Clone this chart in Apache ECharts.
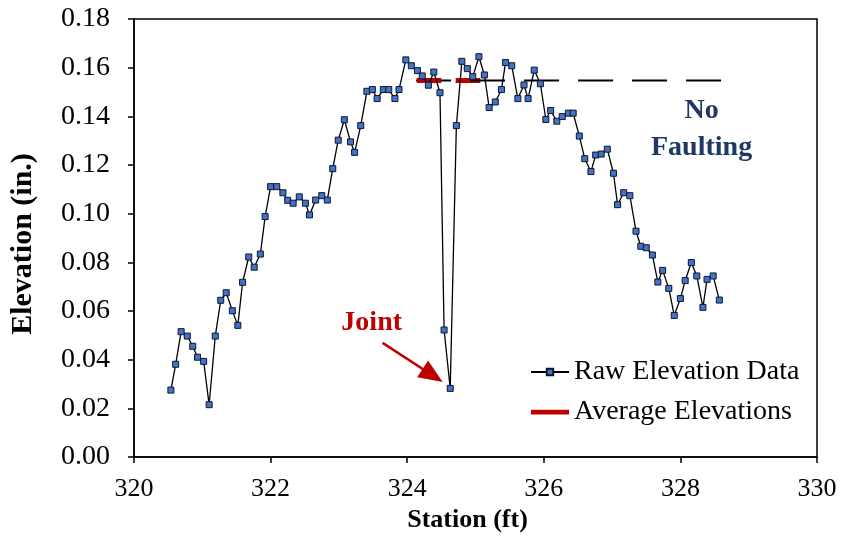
<!DOCTYPE html>
<html>
<head>
<meta charset="utf-8">
<script src="https://cdn.jsdelivr.net/npm/echarts@6/dist/echarts.min.js"></script>
<style>
  html, body { margin: 0; padding: 0; background: #fff; }
  #chart { width: 841px; height: 541px; }
</style>
</head>
<body>
<div id="chart"></div>
<script>
// Surface profile across the joint: station (ft) and elevation (in.)
const stations = [
  320.54, 320.61, 320.69, 320.78, 320.86, 320.93, 321.02, 321.10, 321.19, 321.27,
  321.35, 321.44, 321.52, 321.59, 321.68, 321.76, 321.85, 321.92, 322.00, 322.09,
  322.18, 322.25, 322.33, 322.42, 322.51, 322.57, 322.66, 322.75, 322.83, 322.91,
  322.99, 323.08, 323.17, 323.23, 323.32, 323.41, 323.49, 323.56, 323.65, 323.73,
  323.82, 323.88, 323.98, 324.06, 324.15, 324.22, 324.31, 324.39, 324.48, 324.54,
  324.63, 324.72, 324.80, 324.88, 324.96, 325.05, 325.13, 325.20, 325.29, 325.38,
  325.44, 325.53, 325.62, 325.71, 325.77, 325.86, 325.95, 326.03, 326.10, 326.19,
  326.27, 326.36, 326.43, 326.52, 326.60, 326.69, 326.76, 326.84, 326.93, 327.02,
  327.08, 327.17, 327.26, 327.35, 327.42, 327.50, 327.59, 327.67, 327.74, 327.83,
  327.91, 328.00, 328.07, 328.16, 328.24, 328.33, 328.39, 328.48, 328.57
];
const elevations = [
  0.0275, 0.0381, 0.0515, 0.0497, 0.0455, 0.0410, 0.0393, 0.0215, 0.0497, 0.0644,
  0.0675, 0.0601, 0.0541, 0.0718, 0.0822, 0.0780, 0.0834, 0.0988, 0.1111, 0.1111,
  0.1086, 0.1055, 0.1043, 0.1069, 0.1043, 0.0995, 0.1056, 0.1074, 0.1056, 0.1185,
  0.1302, 0.1386, 0.1295, 0.1252, 0.1362, 0.1503, 0.1510, 0.1473, 0.1510, 0.1510,
  0.1473, 0.1510, 0.1632, 0.1608, 0.1588, 0.1566, 0.1528, 0.1582, 0.1497, 0.0522,
  0.0282, 0.1362, 0.1626, 0.1596, 0.1563, 0.1645, 0.1570, 0.1436, 0.1459, 0.1510,
  0.1621, 0.1608, 0.1473, 0.1529, 0.1473, 0.1590, 0.1534, 0.1387, 0.1424, 0.1380,
  0.1399, 0.1413, 0.1413, 0.1319, 0.1226, 0.1173, 0.1241, 0.1245, 0.1265, 0.1166,
  0.1037, 0.1086, 0.1074, 0.0928, 0.0866, 0.0860, 0.0830, 0.0719, 0.0767, 0.0693,
  0.0582, 0.0651, 0.0725, 0.0799, 0.0744, 0.0615, 0.0730, 0.0744, 0.0645
];

// Average slab elevations either side of the joint
const avgLeftStations = [324.14, 324.50];
const avgRightStations = [324.71, 325.07];
const avgElevation = 0.1547;

// Reference level carried forward (no faulting)
const levelStations = [324.13, 328.60];

// Axis ticks
const xTicks = [320, 322, 324, 326, 328, 330];
const yTicks = [0, 0.02, 0.04, 0.06, 0.08, 0.10, 0.12, 0.14, 0.16, 0.18];

// Annotation anchors (data units)
const jointLabelAt = [323.48, 0.0551];
const arrowFrom = [323.64, 0.0469];
const arrowTo = [324.52, 0.0308];
const noFaultAt = [328.31, 0.1350];

const SERIF = "'Liberation Serif', 'Times New Roman', serif";

const rawData = stations.map((s, i) => [s, elevations[i]]);
const pair = (xs, y) => xs.map(x => [x, y]);

const chart = echarts.init(document.getElementById('chart'), null, { renderer: 'canvas' });

chart.setOption({
  animation: false,
  backgroundColor: '#ffffff',
  grid: {
    left: 134, top: 19, width: 683, height: 438,
    show: true, borderColor: '#000', borderWidth: 1.5, backgroundColor: 'transparent'
  },
  xAxis: {
    type: 'value',
    min: xTicks[0], max: xTicks[xTicks.length - 1], interval: 2,
    name: 'Station (ft)', nameLocation: 'middle', nameGap: 50,
    nameTextStyle: {
      fontFamily: SERIF, fontSize: 26, fontWeight: 'bold', color: '#000',
      padding: [0, 16, 0, 0]
    },
    axisLine: { lineStyle: { color: '#000', width: 1.5 } },
    axisTick: { inside: false, length: 6, lineStyle: { color: '#000', width: 1.5 } },
    axisLabel: { fontFamily: SERIF, fontSize: 26, color: '#000', margin: 19 },
    splitLine: { show: false }
  },
  yAxis: {
    type: 'value',
    min: yTicks[0], max: yTicks[yTicks.length - 1], interval: 0.02,
    name: 'Elevation (in.)', nameLocation: 'middle', nameGap: 96, nameRotate: 90,
    nameTextStyle: {
      fontFamily: SERIF, fontSize: 30, fontWeight: 'bold', color: '#000',
      padding: [0, 12, 0, 0]
    },
    axisLine: { show: true, lineStyle: { color: '#000', width: 1.5 } },
    axisTick: { show: true, inside: false, length: 6, lineStyle: { color: '#000', width: 1.5 } },
    axisLabel: {
      fontFamily: SERIF, fontSize: 28, color: '#000', margin: 24,
      formatter: v => v.toFixed(2)
    },
    splitLine: { show: false }
  },
  legend: {
    data: [
      { name: 'Raw Elevation Data' },
      { name: 'Average Elevations', icon: 'path://M0 0H40V5H0Z' }
    ],
    orient: 'vertical',
    left: 525, top: 353,
    itemWidth: 38, itemHeight: 8, itemGap: 12,
    textStyle: { fontFamily: SERIF, fontSize: 28, color: '#000' }
  },
  series: [
    {
      name: 'Average Elevations', type: 'line', z: 2,
      data: pair(avgRightStations, avgElevation),
      showSymbol: false, symbol: 'none',
      lineStyle: { color: '#C00000', width: 5 },
      itemStyle: { color: '#C00000' }
    },
    {
      name: 'No Faulting Level', type: 'line', z: 3,
      data: pair(levelStations, avgElevation),
      showSymbol: false, symbol: 'none',
      lineStyle: { color: '#000', width: 2, type: [35, 19] }
    },
    {
      name: 'Average Elevations', type: 'line', z: 4,
      data: pair(avgLeftStations, avgElevation),
      showSymbol: false, symbol: 'none',
      lineStyle: { color: '#C00000', width: 5 },
      itemStyle: { color: '#C00000' }
    },
    {
      name: 'Raw Elevation Data', type: 'line', z: 5,
      data: rawData,
      symbol: 'rect', symbolSize: 6, showSymbol: true,
      lineStyle: { color: '#000', width: 1.3 },
      itemStyle: { color: '#4472C4', borderColor: '#0b1730', borderWidth: 1 }
    }
  ]
});

// Annotations placed from data coordinates
const px = c => chart.convertToPixel({ gridIndex: 0 }, c);
const a0 = px(arrowFrom), a1 = px(arrowTo);
const dx = a1[0] - a0[0], dy = a1[1] - a0[1];
const len = Math.hypot(dx, dy), ux = dx / len, uy = dy / len;
const headLen = 24, headHalf = 10;
const base = [a1[0] - ux * headLen, a1[1] - uy * headLen];
const jl = px(jointLabelAt), nf = px(noFaultAt);

chart.setOption({
  graphic: [
    {
      type: 'text', x: jl[0], y: jl[1], z: 10,
      style: {
        text: 'Joint', fill: '#C00000', font: `bold 28px ${SERIF}`,
        textAlign: 'center', textVerticalAlign: 'middle'
      }
    },
    {
      type: 'line', z: 10,
      shape: { x1: a0[0], y1: a0[1], x2: base[0] + ux * 2, y2: base[1] + uy * 2 },
      style: { stroke: '#C00000', lineWidth: 2.5 }
    },
    {
      type: 'polygon', z: 10,
      shape: {
        points: [
          [a1[0], a1[1]],
          [base[0] - uy * headHalf, base[1] + ux * headHalf],
          [base[0] + uy * headHalf, base[1] - ux * headHalf]
        ]
      },
      style: { fill: '#C00000' }
    },
    {
      type: 'text', x: nf[0], y: nf[1] + 1, z: 10,
      style: {
        text: 'No\nFaulting', fill: '#1F3864', font: `bold 28px ${SERIF}`,
        lineHeight: 37, textAlign: 'center', textVerticalAlign: 'middle'
      }
    }
  ]
});
</script>
</body>
</html>
